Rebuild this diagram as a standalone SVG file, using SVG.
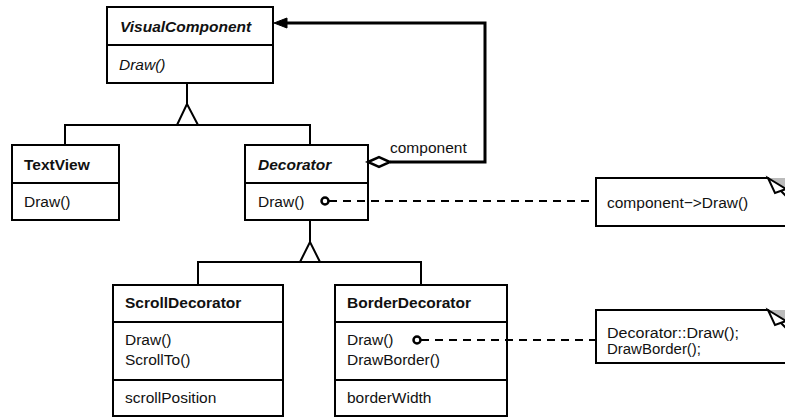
<svg xmlns="http://www.w3.org/2000/svg" width="785" height="418" viewBox="0 0 785 418">
<defs>
<style>
.box{fill:#fff;stroke:#000;stroke-width:2}
.div{stroke:#000;stroke-width:2}
.ln{fill:none;stroke:#000;stroke-width:2}
.thk{fill:none;stroke:#000;stroke-width:3}
.dash{fill:none;stroke:#000;stroke-width:2;stroke-dasharray:8 6}
.t{font-family:"Liberation Sans",Arial,sans-serif;font-size:15.5px;fill:#111}
.b{font-weight:bold}
.i{font-style:italic}
.n{font-family:"Liberation Sans",Arial,sans-serif;font-size:15.5px;fill:#111}
.m{font-family:"Liberation Sans",Arial,sans-serif;font-size:14px;fill:#111}
.dot{fill:#fff;stroke:#000;stroke-width:2.5}
</style>
</defs>
<rect width="785" height="418" fill="#fff"/>
<g id="VisualComponent">
  <rect class="box" x="107" y="7" width="166" height="76"/>
  <line class="div" x1="107" y1="45" x2="273" y2="45"/>
  <text class="t b i" x="120" y="32">VisualComponent</text>
  <text class="t i" x="119" y="70">Draw()</text>
</g>
<g id="TextView">
  <rect class="box" x="12" y="145" width="107" height="75"/>
  <line class="div" x1="12" y1="183" x2="119" y2="183"/>
  <text class="t b" x="24" y="170">TextView</text>
  <text class="t" x="24" y="207">Draw()</text>
</g>
<g id="Decorator">
  <rect class="box" x="245" y="145" width="123" height="75"/>
  <line class="div" x1="245" y1="183" x2="368" y2="183"/>
  <text class="t b i" x="258" y="170">Decorator</text>
  <text class="t" x="258" y="207">Draw()</text>
</g>
<g id="ScrollDecorator">
  <rect class="box" x="113" y="285" width="170" height="131"/>
  <line class="div" x1="113" y1="322" x2="283" y2="322"/>
  <line class="div" x1="113" y1="380" x2="283" y2="380"/>
  <text class="t b" x="125" y="308">ScrollDecorator</text>
  <text class="t" x="125" y="345">Draw()</text>
  <text class="t" x="125" y="365">ScrollTo()</text>
  <text class="t" x="125" y="403">scrollPosition</text>
</g>
<g id="BorderDecorator">
  <rect class="box" x="335" y="285" width="172" height="131"/>
  <line class="div" x1="335" y1="322" x2="507" y2="322"/>
  <line class="div" x1="335" y1="380" x2="507" y2="380"/>
  <text class="t b" x="347" y="308">BorderDecorator</text>
  <text class="t" x="347" y="345">Draw()</text>
  <text class="t" x="347" y="365">DrawBorder()</text>
  <text class="t" x="347" y="403">borderWidth</text>
</g>
<g id="note1">
  <path class="box" d="M596,178 H768 L790,200 V226 H596 Z"/>
  <polygon points="770,178 786,178 786,191" fill="#bbb"/>
  <polygon points="768,178 775,193 786,189" fill="#fff" stroke="#000" stroke-width="2"/>
  <text class="n" x="607" y="208">component−&gt;Draw()</text>
</g>
<g id="note2">
  <path class="box" d="M596,310 H768 L790,332 V363 H596 Z"/>
  <polygon points="770,310 786,310 786,323" fill="#bbb"/>
  <polygon points="768,310 775,325 786,321" fill="#fff" stroke="#000" stroke-width="2"/>
  <text class="m" x="607" y="338" textLength="132" lengthAdjust="spacingAndGlyphs">Decorator::Draw();</text>
  <text class="m" x="607" y="354" textLength="94" lengthAdjust="spacingAndGlyphs">DrawBorder();</text>
</g>
<g id="connectors">
  <path class="ln" d="M187,83 V104"/>
  <path class="ln" d="M177,125 L187,104 L198,125"/>
  <path class="ln" d="M65,145 V125 H310 V145"/>
  <path class="ln" d="M310,220 V242"/>
  <path class="ln" d="M300,262 L310,242 L320,262"/>
  <path class="ln" d="M198,285 V262 H421 V285"/>
  <path class="thk" d="M390,162 H485 V23 H286"/>
  <polygon points="368,162 379,157 390,162 379,167" fill="#fff" stroke="#000" stroke-width="2.5"/>
  <polygon points="274,23 287,18 287,28" fill="#000" stroke="#000" stroke-width="1"/>
  <text class="n" x="390" y="153">component</text>
  <path class="dash" d="M329,201 H596"/>
  <circle class="dot" cx="325" cy="201" r="3.5"/>
  <path class="dash" d="M421,340 H596"/>
  <circle class="dot" cx="417" cy="340" r="3.5"/>
</g>
</svg>
